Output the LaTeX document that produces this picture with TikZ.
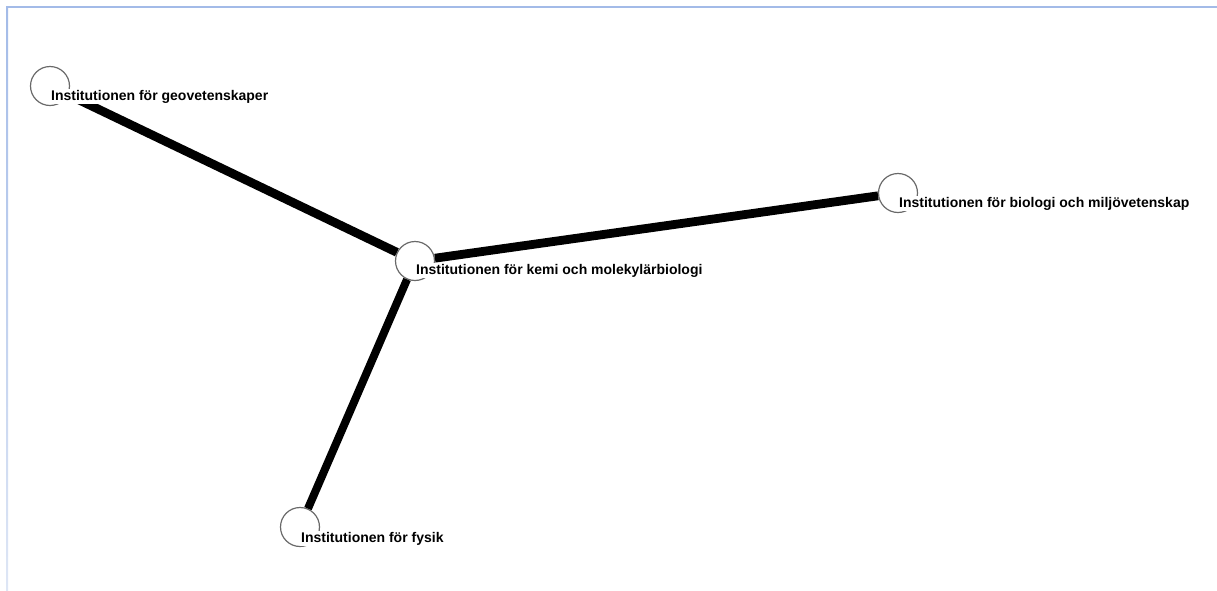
\documentclass[tikz,border=0pt]{standalone}
\usepackage{fontspec}
\setmainfont{Liberation Sans}
\definecolor{frameblue}{RGB}{163,187,232}
\definecolor{framepale}{RGB}{222,230,245}
\definecolor{ringgray}{RGB}{105,105,105}

\begin{document}
\begin{tikzpicture}[x=0.5pt, y=-0.5pt,
    vertex/.style={circle, draw=ringgray, line width=0.6pt, minimum size=19.5pt, inner sep=0pt},
    link/.style={line width=4.4pt, black},
    lbl/.style={anchor=base west, fill=white, inner sep=0.4pt, font=\fontsize{7}{8}\selectfont\bfseries}]
    \useasboundingbox (0,0) rectangle (1217,590);
    % frame
    \draw[frameblue, line width=1pt] (6,6.5) -- (1217,6.5);
    \shade[top color=frameblue, bottom color=framepale] (6,6) rectangle (8,590);

    % nodes
    \node[vertex] (geo) at (50,86) {};
    \node[vertex] (kemi) at (415,261) {};
    \node[vertex] (bio) at (898,193) {};
    \node[vertex] (fysik) at (300,527) {};

    % edges
    \draw[link] (geo) -- (kemi);
    \draw[link] (kemi) -- (bio);
    \draw[link, line width=4pt] (kemi) -- (fysik);

    % names
    \node[lbl] (geoname) at (50,100) {Institutionen för geovetenskaper};
    \node[lbl] (keminame) at (415,274) {Institutionen för kemi och molekylärbiologi};
    \node[lbl] (bioname) at (898,207) {Institutionen för biologi och miljövetenskap};
    \node[lbl] (fysikname) at (300,542) {Institutionen för fysik};
\end{tikzpicture}
\end{document}
